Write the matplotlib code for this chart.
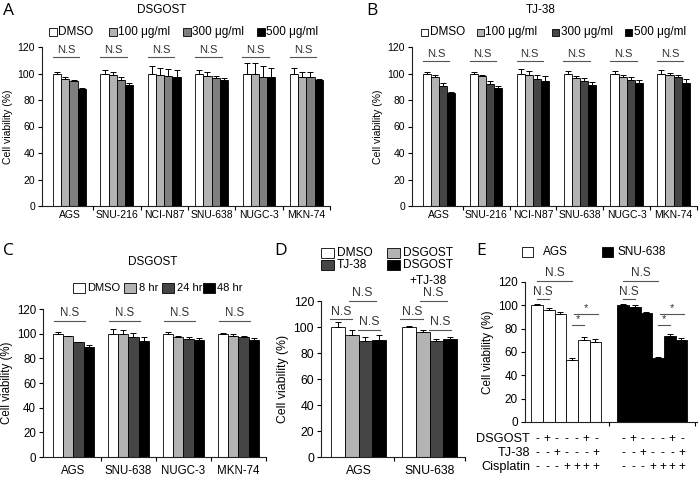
import numpy as np
import matplotlib.pyplot as plt
from matplotlib.patches import Rectangle

plt.rcParams['font.family'] = ['Liberation Sans', 'DejaVu Sans']
plt.rcParams['font.size'] = 8

# ---- values ----
# A / B : dose response of DSGOST and TJ-38
ab_lines = ['AGS', 'SNU-216', 'NCI-N87', 'SNU-638', 'NUGC-3', 'MKN-74']
dose_labels = ['DMSO', '100 μg/ml', '300 μg/ml', '500 μg/ml']

a_mean = [[100, 100, 100, 100, 100, 100],
          [96, 98.5, 98.5, 98, 100, 97.5],
          [94, 95, 98, 96.5, 97.5, 97],
          [88.5, 91.5, 97.5, 95, 97, 95]]
a_sd = [[1.5, 3, 5.5, 3, 8, 4.5],
        [1, 2.5, 5.5, 3, 8, 4],
        [1, 2.5, 5.5, 1.5, 8, 4],
        [0.5, 1.5, 5.5, 1.5, 7, 1]]

b_mean = [[100, 100, 100, 100, 100, 100],
          [97, 98, 98.5, 96.5, 97, 98.5],
          [90.5, 92, 96, 94.5, 95, 97],
          [85, 89, 94.5, 91.5, 93, 93]]
b_sd = [[1, 1.5, 3.5, 2, 2, 2.5],
        [2, 1, 3.5, 1.5, 1.5, 2],
        [2.5, 2, 3, 2, 2, 2],
        [1, 1.5, 3.5, 2, 2, 2.5]]

# C : DSGOST time course
c_lines = ['AGS', 'SNU-638', 'NUGC-3', 'MKN-74']
time_labels = ['DMSO', '8 hr', '24 hr', '48 hr']
c_mean = [[100, 100, 100, 100],
          [98, 99.5, 97, 98.5],
          [93, 97.5, 96, 97],
          [89.5, 94, 95, 94.5]]
c_sd = [[1, 3.5, 1, 0.5],
        [0.5, 3.5, 1, 1],
        [0.5, 3, 1, 1],
        [1, 3.5, 1.5, 2]]

# D : combination
d_lines = ['AGS', 'SNU-638']
combo_labels = ['DMSO', 'DSGOST', 'TJ-38', 'DSGOST\n+TJ-38']
d_mean = [[100, 100], [94, 96], [89.5, 89], [90, 91]]
d_sd = [[3.5, 1], [3.5, 1.5], [3, 1.5], [4, 1.5]]

# E : with cisplatin
e_lines = ['AGS', 'SNU-638']
e_ags = [100, 96, 93, 53, 70.5, 69]
e_ags_sd = [1, 1.5, 1, 2, 2, 2]
e_snu = [100, 98.5, 93.5, 55, 73.5, 70]
e_snu_sd = [1, 1.5, 0.5, 1, 2, 2]
row_names = ['DSGOST', 'TJ-38', 'Cisplatin']
row_signs = [['-', '+', '-', '-', '-', '+', '-'],
             ['-', '-', '+', '-', '-', '-', '+'],
             ['-', '-', '-', '+', '+', '+', '+']]

WHITE, LIGHT, MID, DARK, BLACK = 'white', '#b3b3b3', '#7f7f7f', '#454545', 'black'


def bars(ax, means, sds, colors, width):
    n = len(means)
    x = np.arange(len(means[0]))
    for i in range(n):
        pos = x + (i - (n - 1) / 2) * width
        ax.bar(pos, means[i], width, color=colors[i], edgecolor='black',
               linewidth=0.6, zorder=2)
        ax.errorbar(pos, means[i], yerr=[np.zeros(len(sds[i])), sds[i]],
                    fmt='none', ecolor='black', elinewidth=0.7, capsize=2,
                    capthick=0.7, zorder=3)


def style(ax, labels, xlim, fs, pad):
    ng = len(labels)
    ax.set_xlim(*xlim)
    ax.set_ylim(0, 120)
    ax.set_yticks(range(0, 121, 20))
    ax.spines[['top', 'right']].set_visible(False)
    for s in ['left', 'bottom']:
        ax.spines[s].set_linewidth(0.8)
        ax.spines[s].set_color('#222222')
    ax.tick_params(axis='y', length=3, width=0.8, labelsize=fs, pad=2)
    ax.set_xticks(np.arange(ng))
    ax.set_xticklabels(labels)
    ax.set_xticks(np.arange(ng) + 0.5, minor=True)
    ax.tick_params(axis='x', which='major', length=0, labelsize=fs, pad=pad)
    ax.tick_params(axis='x', which='minor', length=3, width=0.8)
    ax.set_ylabel('Cell viability (%)', fontsize=fs, labelpad=3)


def bracket(ax, x0, x1, y, text, fs=8):
    ax.plot([x0, x1], [y, y], color='#555555', lw=0.8, clip_on=False, zorder=4)
    ax.text((x0 + x1) / 2, y + 1.2, text, ha='center', va='bottom',
            fontsize=fs, color='#333333', clip_on=False)


fig = plt.figure(figsize=(7, 4.8), dpi=100)
W, H = 700, 480

# overlay in pixel units for panel letters, titles, legends
ov = fig.add_axes([0, 0, 1, 1], zorder=10)
ov.set_xlim(0, W)
ov.set_ylim(H, 0)
ov.axis('off')


def key(x, y, w, h, color, label, tx, fs):
    ov.add_patch(Rectangle((x, y - h / 2), w, h, facecolor=color,
                           edgecolor='black', linewidth=0.6))
    ov.text(tx, y, label, ha='left', va='center', fontsize=fs)


for letter, lx, ly in [('A', 3, 11), ('B', 366, 11), ('C', 3, 251),
                       ('D', 274, 251), ('E', 476, 251)]:
    ov.text(lx, ly, letter, fontsize=12.5, family=['Open Sans', 'DejaVu Sans'],
            ha='left', va='center')

# ---- A ----
axA = fig.add_axes([42 / W, 1 - 206 / H, 288 / W, 159 / H])
bars(axA, a_mean, a_sd, [WHITE, LIGHT, MID, BLACK], 0.173)
style(axA, ab_lines, (-0.58, 5.5), 7.5, 3)
for g in range(len(ab_lines)):
    bracket(axA, g - 0.35, g + 0.21, 112.5, 'N.S', 8)
ov.text(162, 10, 'DSGOST', ha='center', va='center', fontsize=8.5)
for sx, tx, col, lab in zip([49, 109, 183, 257], [58, 118, 192, 266],
                            [WHITE, LIGHT, MID, BLACK], dose_labels):
    key(sx, 32, 8, 8, col, lab, tx, 8.5)

# ---- B ----
axB = fig.add_axes([412 / W, 1 - 206 / H, 285 / W, 159 / H])
bars(axB, b_mean, b_sd, [WHITE, LIGHT, DARK, BLACK], 0.173)
style(axB, ab_lines, (-0.58, 5.45), 7.5, 3)
for g in range(len(ab_lines)):
    bracket(axB, g - 0.35, g + 0.21, 109.5, 'N.S', 8)
ov.text(541, 10, 'TJ-38', ha='center', va='center', fontsize=8.5)
for sx, tx, col, lab in zip([421, 477, 552, 625], [430, 485, 561, 634],
                            [WHITE, LIGHT, DARK, BLACK], dose_labels):
    key(sx, 32, 7, 7, col, lab, tx, 8.5)

# ---- C ----
axC = fig.add_axes([43 / W, 23 / H, 223 / W, 148 / H])
bars(axC, c_mean, c_sd, [WHITE, LIGHT, DARK, BLACK], 0.186)
style(axC, c_lines, (-0.55, 3.5), 8.3, 6)
for g in range(len(c_lines)):
    bracket(axC, g - 0.35, g + 0.21, 110.5, 'N.S', 8.3)
ov.text(153, 262, 'DSGOST', ha='center', va='center', fontsize=8.5)
for sx, tx, col, lab in zip([73, 124, 162, 203], [87, 139, 177, 217],
                            [WHITE, LIGHT, DARK, BLACK], time_labels):
    key(sx, 288, 12, 10, col, lab, tx, 8)

# ---- D ----
axD = fig.add_axes([321 / W, 23 / H, 144 / W, 156 / H])
bars(axD, d_mean, d_sd, [WHITE, LIGHT, DARK, BLACK], 0.194)
style(axD, d_lines, (-0.53, 1.47), 8.8, 6)
for g in range(len(d_lines)):
    bracket(axD, g - 0.41, g - 0.09, 106, 'N.S', 8.8)
    bracket(axD, g - 0.14, g + 0.25, 120, 'N.S', 8.8)
    bracket(axD, g - 0.01, g + 0.30, 98, 'N.S', 8.8)
for (sx, sy), col, lab in zip([(321, 253), (387, 253), (321, 265), (387, 265)],
                              [WHITE, LIGHT, DARK, BLACK], combo_labels):
    ov.add_patch(Rectangle((sx, sy - 5), 13, 10, facecolor=col,
                           edgecolor='black', linewidth=0.6))
    ov.text(sx + 16, sy - 6.5, lab, ha='left', va='top', fontsize=8.6,
            multialignment='center', linespacing=1.45)

# ---- E ----
axE = fig.add_axes([525 / W, 58 / H, 172 / W, 140 / H])
bw = 0.135
e_pos = (np.arange(6) - 2.5) * bw
for g, (vals, sds, col) in enumerate([(e_ags, e_ags_sd, WHITE),
                                      (e_snu, e_snu_sd, BLACK)]):
    axE.bar(g + e_pos, vals, bw, color=col, edgecolor='black', linewidth=0.6,
            zorder=2)
    axE.errorbar(g + e_pos, vals, yerr=[np.zeros(6), sds], fmt='none',
                 ecolor='black', elinewidth=0.7, capsize=2, capthick=0.7,
                 zorder=3)
    p = g + e_pos
    bracket(axE, p[0], p[3], 121, 'N.S', 8.5)
    bracket(axE, p[0], p[1], 105.5, 'N.S', 8.5)
    bracket(axE, p[3], p[4], 83, '*', 8)
    bracket(axE, p[3] + 0.02, p[5] + 0.03, 92.5, '*', 8)
    # condition table under the bars
    sign_x = np.linspace(p[0], p[5] + 0.01, len(row_signs[0]))
    for r, signs in enumerate(row_signs):
        for sx, s in zip(sign_x, signs):
            axE.text(sx, -0.121 - 0.1 * r, s, ha='center', va='center',
                     fontsize=8.5, transform=axE.get_xaxis_transform(),
                     clip_on=False)
style(axE, ['', ''], (-0.48, 1.52), 8.5, 3)
for r, name in enumerate(row_names):
    axE.text(0.03, -0.121 - 0.1 * r, name, ha='right', va='center',
             fontsize=9.2, transform=axE.transAxes)
key(522, 252, 11, 10, WHITE, e_lines[0], 543, 8.5)
key(602, 252, 11, 10, BLACK, e_lines[1], 618, 8.5)

fig.savefig('out.png', dpi=100)
